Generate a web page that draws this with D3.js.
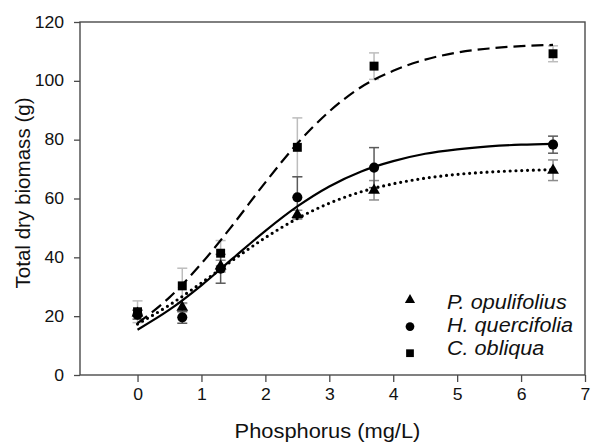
<!DOCTYPE html>
<html>
<head>
<meta charset="utf-8">
<script src="https://cdn.jsdelivr.net/npm/d3@7"></script>
<style>
  body { margin: 0; background: #fff; }
  svg { font-family: "Liberation Sans", Arial, sans-serif; }
</style>
</head>
<body>
<div id="chart"></div>
<script>
// measured points (mean +/- error)
var phosphorus = [0, 0.7, 1.3, 2.5, 3.7, 6.5];

var opulifolius = [21, 23, 37, 54.5, 62.8, 69.6];
var opulifoliusErr = [1, 1.5, 2, 1.5, 3.3, 3.5];

var quercifolia = [20.5, 19.6, 36.1, 60.4, 70.5, 78.3];
var quercifoliaErr = [1.5, 2, 4.9, 7, 6.8, 2.9];

var obliqua = [21.5, 30.3, 41.4, 77.4, 105, 109.2];
var obliquaErr = [3.7, 6, 4.3, 10, 4.5, 2.7];

// fitted curves
var fitX = [0, 0.5, 1, 1.5, 2, 2.5, 3, 3.5, 4, 4.5, 5, 5.5, 6, 6.5];
var opulifoliusFit = [17.3, 23.8, 31.3, 39.2, 46.7, 53.2, 58.4, 62.3, 65.0, 66.9, 68.2, 69.0, 69.5, 69.8];
var quercifoliaFit = [15.4, 22.2, 30.5, 39.8, 49.0, 57.3, 64.1, 69.2, 72.7, 75.2, 76.7, 77.7, 78.3, 78.6];
var obliquaFit = [17.6, 26.4, 37.9, 51.3, 65.5, 78.7, 89.6, 97.9, 103.4, 107.2, 109.6, 111.0, 111.8, 112.2];

var xTicks = [0, 1, 2, 3, 4, 5, 6, 7];
var yTicks = [0, 20, 40, 60, 80, 100, 120];

var species = ["P. opulifolius", "H. quercifolia", "C. obliqua"];

var W = 591, H = 443;
var margin = {left: 80, right: 585, top: 22, bottom: 375};

var svg = d3.select("#chart")
  .append("svg")
    .attr("width", W)
    .attr("height", H);

var x = d3.scaleLinear().domain([-0.9, 7]).range([margin.left, margin.right]);
var y = d3.scaleLinear().domain([0, 120]).range([margin.bottom, margin.top]);

var axisColor = "#4a4a4a";
var textColor = "#111";

// the original type is a bit wider than Arial
function widen(sel, k) {
  sel.each(function() {
    var w = this.getComputedTextLength();
    d3.select(this).attr("textLength", w * k).attr("lengthAdjust", "spacingAndGlyphs");
  });
}

// X axis
var xAxis = svg.append("g")
  .attr("transform", "translate(0," + margin.bottom + ")")
  .call(d3.axisBottom(x).tickValues(xTicks).tickSize(7).tickPadding(7).tickFormat(d3.format("d")));
xAxis.select(".domain").remove();
xAxis.selectAll("line").attr("stroke", axisColor).attr("stroke-width", 1.3);
xAxis.selectAll("text").attr("font-size", 16).attr("fill", textColor).attr("font-family", "Liberation Sans, Arial, sans-serif");
widen(xAxis.selectAll("text"), 1.1);

// Y axis
var yAxis = svg.append("g")
  .attr("transform", "translate(" + margin.left + ",0)")
  .call(d3.axisLeft(y).tickValues(yTicks).tickSize(6).tickPadding(10));
yAxis.select(".domain").remove();
yAxis.selectAll("line").attr("stroke", axisColor).attr("stroke-width", 1.3);
yAxis.selectAll("text").attr("font-size", 16).attr("fill", textColor).attr("font-family", "Liberation Sans, Arial, sans-serif");
widen(yAxis.selectAll("text"), 1.1);

// frame
svg.append("rect")
  .attr("x", margin.left)
  .attr("y", margin.top)
  .attr("width", margin.right - margin.left)
  .attr("height", margin.bottom - margin.top)
  .attr("fill", "none")
  .attr("stroke", axisColor)
  .attr("stroke-width", 1.4);

// axis titles
var xTitle = svg.append("text")
  .attr("x", (margin.left + margin.right) / 2 - 5)
  .attr("y", 438)
  .attr("text-anchor", "middle")
  .attr("font-size", 19.5)
  .attr("fill", textColor)
  .text("Phosphorus (mg/L)");
widen(xTitle, 1.12);

var yTitle = svg.append("text")
  .attr("transform", "translate(30,193) rotate(-90)")
  .attr("text-anchor", "middle")
  .attr("font-size", 20)
  .attr("fill", textColor)
  .text("Total dry biomass (g)");
widen(yTitle, 1.03);

var series = [
  { name: species[0], mean: opulifolius, err: opulifoliusErr, fit: opulifoliusFit,
    symbol: d3.symbolTriangle, size: 60, errColor: "#8c8c8c", dash: "0 5.8", width: 3.2, cap: "round" },
  { name: species[1], mean: quercifolia, err: quercifoliaErr, fit: quercifoliaFit,
    symbol: d3.symbolCircle, size: 80, errColor: "#5a5a5a", dash: null, width: 2.2, cap: "butt" },
  { name: species[2], mean: obliqua, err: obliquaErr, fit: obliquaFit,
    symbol: d3.symbolSquare, size: 80, errColor: "#bdbdbd", dash: "12 6", width: 2.2, cap: "butt" }
];

// error bars (light ones first)
var drawOrder = [2, 0, 1];
drawOrder.forEach(function(i) {
  var s = series[i];
  var g = svg.append("g").attr("stroke", s.errColor).attr("stroke-width", 1.5);
  phosphorus.forEach(function(p, j) {
    var lo = y(s.mean[j] - s.err[j]), hi = y(s.mean[j] + s.err[j]), cx = x(p);
    g.append("line").attr("x1", cx).attr("x2", cx).attr("y1", lo).attr("y2", hi);
    g.append("line").attr("x1", cx - 5).attr("x2", cx + 5).attr("y1", lo).attr("y2", lo);
    g.append("line").attr("x1", cx - 5).attr("x2", cx + 5).attr("y1", hi).attr("y2", hi);
  });
});

// fitted curves
var line = d3.line()
  .x(function(d) { return x(d[0]); })
  .y(function(d) { return y(d[1]); })
  .curve(d3.curveMonotoneX);

series.forEach(function(s) {
  svg.append("path")
    .datum(fitX.map(function(v, j) { return [v, s.fit[j]]; }))
    .attr("d", line)
    .attr("fill", "none")
    .attr("stroke", "#000")
    .attr("stroke-width", s.width)
    .attr("stroke-linecap", s.cap)
    .attr("stroke-dasharray", s.dash);
});

// markers
series.forEach(function(s) {
  svg.append("g").selectAll("path")
    .data(phosphorus)
    .enter()
    .append("path")
      .attr("d", d3.symbol().type(s.symbol).size(s.size))
      .attr("transform", function(p, j) { return "translate(" + x(p) + "," + y(s.mean[j]) + ")"; })
      .attr("fill", "#000");
});

// legend
var legend = svg.append("g");
series.forEach(function(s, i) {
  legend.append("path")
    .attr("d", d3.symbol().type(s.symbol).size(s.size * 0.75))
    .attr("transform", "translate(410," + (300 + i * 26.6) + ")")
    .attr("fill", "#000");
  var t = legend.append("text")
    .attr("x", 447)
    .attr("y", 308.5 + i * 23.3)
    .attr("font-size", 20)
    .attr("font-style", "italic")
    .attr("fill", textColor)
    .text(s.name);
  widen(t, 1.08);
});
</script>
</body>
</html>
